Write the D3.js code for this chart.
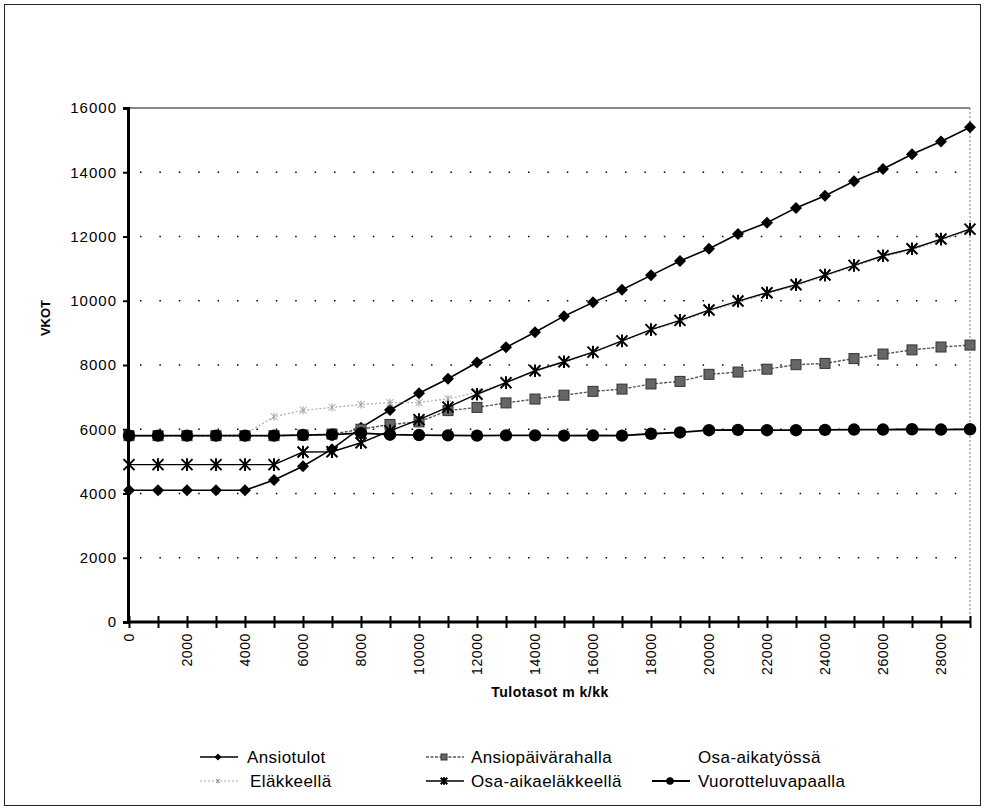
<!DOCTYPE html>
<html><head><meta charset="utf-8">
<script src="https://cdn.jsdelivr.net/npm/d3@7"></script>
<style>
html,body{margin:0;padding:0;background:#fff;}
svg{display:block;font-family:"Liberation Sans",Arial,sans-serif;}
</style></head>
<body>
<svg id="chart" width="985" height="810"></svg>
<script>
const categories = d3.range(0, 30000, 1000);
const tickLabels = [0,2000,4000,6000,8000,10000,12000,14000,16000,18000,20000,22000,24000,26000,28000];
const yTicks = [0,2000,4000,6000,8000,10000,12000,14000,16000];

const ansiotulot = [4100,4100,4100,4100,4100,4420,4850,5380,6050,6600,7120,7570,8080,8550,9020,9520,9950,10340,10790,11240,11620,12080,12430,12890,13270,13720,14100,14560,14960,15400];
const ansiopaivarahalla = [5800,5800,5800,5800,5800,5800,5820,5850,6000,6150,6230,6580,6680,6820,6940,7060,7180,7250,7410,7490,7710,7780,7870,8010,8050,8200,8340,8470,8560,8620];
const elakkeella = [5800,5800,5800,5800,5850,6390,6590,6680,6770,6830,6830,6950,7150,7450,7800,8080,8380,8730,9080,9360,9680,9950,10220,10470,10770,11070,11370,11580,11880,12180];
const osaaikaelakkeella = [4900,4900,4900,4900,4900,4900,5290,5300,5580,5950,6300,6690,7090,7450,7820,8100,8400,8750,9100,9390,9710,9990,10250,10500,10800,11100,11400,11620,11920,12230];
const vuorotteluvapaalla = [5800,5800,5800,5800,5800,5800,5820,5830,5880,5830,5820,5810,5800,5810,5810,5800,5810,5800,5860,5900,5970,5980,5970,5970,5980,5990,5990,6000,5990,6000];

const svg = d3.select("#chart");
const L = 128, R = 970, T = 108, B = 622;
const x = d3.scalePoint().domain(categories).range([L + 1, R]);
const y = d3.scaleLinear().domain([0, 16000]).range([B, T]);

// outer frame
svg.append("rect").attr("x", 4.5).attr("y", 4.5).attr("width", 976).attr("height", 801)
  .attr("fill", "none").attr("stroke", "#222").attr("stroke-width", 1);

// gridlines
svg.append("g").selectAll("line").data(yTicks.filter(d => d > 0 && d < 16000)).join("line")
  .attr("x1", L + 12).attr("x2", R).attr("y1", d => y(d)).attr("y2", d => y(d))
  .attr("stroke", "#000").attr("stroke-width", 1.5).attr("stroke-dasharray", "1.5,17.9");

// plot border top and right
svg.append("line").attr("x1", L).attr("x2", R).attr("y1", T).attr("y2", T).attr("stroke", "#111").attr("stroke-width", 1.2);
svg.append("line").attr("x1", R).attr("x2", R).attr("y1", T).attr("y2", B).attr("stroke", "#777").attr("stroke-width", 1).attr("stroke-dasharray", "2,2");

// Y axis
const yAxis = d3.axisLeft(y).tickValues(yTicks).tickSize(5).tickPadding(6).tickFormat(d3.format("d"));
const gy = svg.append("g").attr("transform", `translate(${L},0)`).call(yAxis);
gy.select(".domain").attr("stroke-width", 3).attr("stroke", "#000");
gy.selectAll(".tick line").attr("stroke-width", 2);
gy.selectAll(".tick text").attr("font-size", 15).attr("letter-spacing", "1px")
  .attr("font-family", "Liberation Sans, Arial, sans-serif").attr("fill", "#000");

// X axis
const xAxis = d3.axisBottom(x).tickSizeInner(6).tickSizeOuter(0).tickFormat(d => tickLabels.includes(d) ? d : "");
const gx = svg.append("g").attr("transform", `translate(0,${B})`).call(xAxis);
gx.select(".domain").attr("stroke-width", 3).attr("stroke", "#000").attr("d", `M${L},0H${R}`);
gx.selectAll(".tick line").attr("y1", -6).attr("y2", 6).attr("stroke-width", 2);
gx.selectAll(".tick text").attr("font-size", 14).attr("letter-spacing", "0.6px")
  .attr("font-family", "Liberation Sans, Arial, sans-serif").attr("fill", "#000")
  .attr("transform", "rotate(-90)").attr("text-anchor", "end").attr("x", -11).attr("y", 0).attr("dy", "0.35em");

// axis titles
svg.append("text").attr("transform", "translate(45,318) rotate(-90)").attr("text-anchor", "middle")
  .attr("font-size", 13).attr("font-weight", "bold").attr("dy", "0.35em").text("VKOT");
svg.append("text").attr("x", 550).attr("y", 697).attr("text-anchor", "middle")
  .attr("font-size", 14).attr("font-weight", "bold").attr("letter-spacing", "0.5px").text("Tulotasot m k/kk");

// marker helpers
function diamond(g, cx, cy, s) {
  g.append("path").attr("d", `M${cx},${cy - s}L${cx + s},${cy}L${cx},${cy + s}L${cx - s},${cy}Z`).attr("fill", "#000");
}
function square(g, cx, cy, s) {
  g.append("rect").attr("x", cx - s).attr("y", cy - s).attr("width", 2 * s).attr("height", 2 * s)
    .attr("fill", "#666").attr("stroke", "#333").attr("stroke-width", 1);
}
function circle(g, cx, cy, r) {
  g.append("circle").attr("cx", cx).attr("cy", cy).attr("r", r).attr("fill", "#000");
}
function star(g, cx, cy, s, color, w) {
  g.append("path").attr("d", `M${cx - s},${cy - s}L${cx + s},${cy + s}M${cx - s},${cy + s}L${cx + s},${cy - s}M${cx},${cy - s * 1.15}L${cx},${cy + s * 1.15}`)
    .attr("stroke", color).attr("stroke-width", w).attr("fill", "none");
}

const series = [
  {name: "Ansiotulot", values: ansiotulot, color: "#000", width: 1.6, dash: null, marker: (g, a, b, k) => diamond(g, a, b, 6 * k)},
  {name: "Ansiopäivärahalla", values: ansiopaivarahalla, color: "#555", width: 1.4, dash: "3,1.5", marker: (g, a, b, k) => square(g, a, b, 5 * k)},
  {name: "Eläkkeellä", values: elakkeella, color: "#aaa", width: 1.2, dash: "2,2", marker: (g, a, b, k) => star(g, a, b, 3.5 * k, "#999", 1)},
  {name: "Osa-aikaeläkkeellä", values: osaaikaelakkeella, color: "#000", width: 1.4, dash: null, marker: (g, a, b, k) => star(g, a, b, 5.5 * k, "#000", 2)},
  {name: "Vuorotteluvapaalla", values: vuorotteluvapaalla, color: "#000", width: 1.8, dash: null, marker: (g, a, b, k) => circle(g, a, b, 6.2 * k)}
];

const line = d3.line().x((d, i) => x(categories[i])).y(d => y(d));
series.forEach(s => {
  const g = svg.append("g");
  g.append("path").attr("d", line(s.values)).attr("fill", "none").attr("stroke", s.color)
    .attr("stroke-width", s.width).attr("stroke-dasharray", s.dash);
  s.values.forEach((v, i) => s.marker(g, x(categories[i]), y(v), 1));
});

// legend
const legendItems = [
  {s: series[0], lx: 200, ly: 757, tx: 247},
  {s: series[1], lx: 426, ly: 757, tx: 471},
  {s: null, name: "Osa-aikatyössä", lx: 652, ly: 757, tx: 698},
  {s: series[2], lx: 200, ly: 781, tx: 250},
  {s: series[3], lx: 426, ly: 781, tx: 471},
  {s: series[4], lx: 652, ly: 781, tx: 698}
];
const lg = svg.append("g");
legendItems.forEach(it => {
  if (it.s) {
    lg.append("line").attr("x1", it.lx).attr("x2", it.lx + 38).attr("y1", it.ly).attr("y2", it.ly)
      .attr("stroke", it.s.color).attr("stroke-width", it.s.width).attr("stroke-dasharray", it.s.dash);
    it.s.marker(lg, it.lx + 18, it.ly, 0.6);
  }
  lg.append("text").attr("x", it.tx).attr("y", it.ly).attr("dy", "0.35em").attr("font-size", 17)
    .attr("letter-spacing", "0.4px").text(it.s ? it.s.name : it.name);
});
</script>
</body></html>
